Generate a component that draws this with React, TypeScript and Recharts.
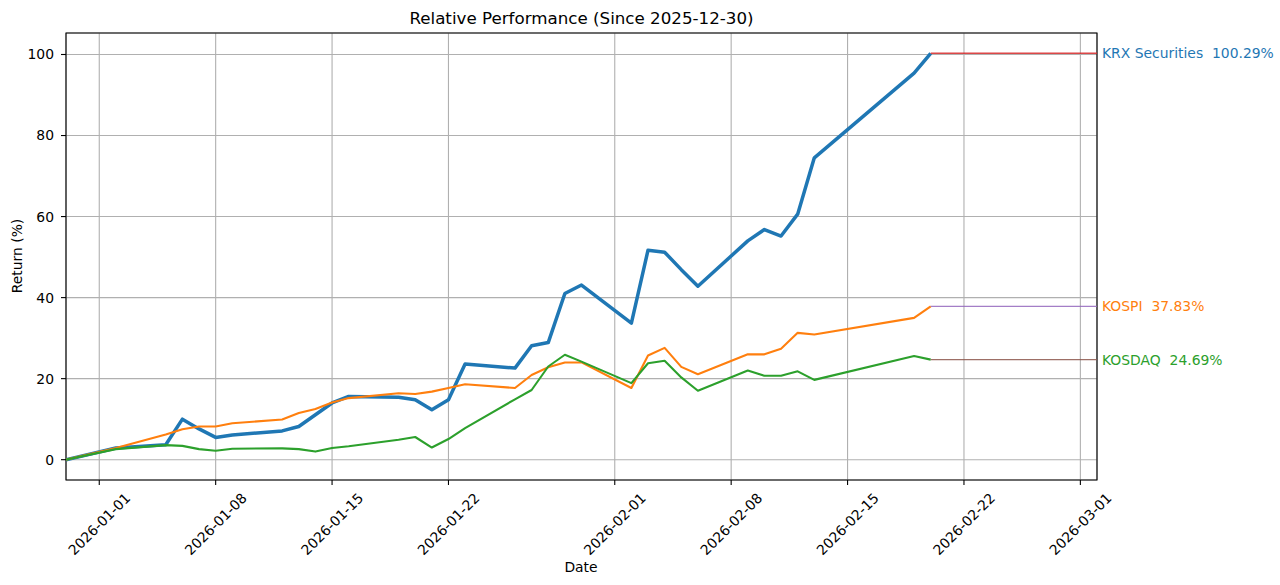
import {
  CartesianGrid,
  LabelList,
  Line,
  LineChart,
  ReferenceArea,
  XAxis,
  YAxis,
} from "recharts";

const BASE_DATE = "2025-12-30";

const dates = [
  "2025-12-30", "2026-01-02", "2026-01-05", "2026-01-06", "2026-01-07",
  "2026-01-08", "2026-01-09", "2026-01-12", "2026-01-13", "2026-01-14",
  "2026-01-15", "2026-01-16", "2026-01-19", "2026-01-20", "2026-01-21",
  "2026-01-22", "2026-01-23", "2026-01-26", "2026-01-27", "2026-01-28",
  "2026-01-29", "2026-01-30", "2026-02-02", "2026-02-03", "2026-02-04",
  "2026-02-05", "2026-02-06", "2026-02-09", "2026-02-10", "2026-02-11",
  "2026-02-12", "2026-02-13", "2026-02-19", "2026-02-20",
];

const krxSecurities = [
  0, 2.9, 3.7, 10.0, 7.6, 5.5, 6.1, 7.1, 8.2, 11.1,
  14.0, 15.6, 15.4, 14.8, 12.3, 14.8, 23.6, 22.6, 28.1, 28.9,
  41.0, 43.1, 33.7, 51.7, 51.2, 46.9, 42.8, 54.0, 56.8, 55.2,
  60.6, 74.5, 95.4, 100.29,
];

const kospi = [
  0, 2.9, 6.2, 7.5, 8.2, 8.2, 9.0, 9.9, 11.5, 12.5,
  14.1, 15.2, 16.4, 16.2, 16.8, 17.7, 18.6, 17.7, 20.9, 22.8,
  24.0, 24.0, 17.7, 25.7, 27.6, 22.9, 21.1, 26.0, 26.0, 27.4,
  31.3, 30.9, 35.0, 37.83,
];

const kosdaq = [
  0, 2.6, 3.6, 3.4, 2.6, 2.2, 2.7, 2.8, 2.6, 2.0,
  2.9, 3.3, 4.9, 5.6, 3.0, 5.1, 7.8, 14.9, 17.2, 23.0,
  25.9, 24.2, 18.9, 23.8, 24.4, 20.3, 17.0, 22.0, 20.7, 20.7,
  21.8, 19.7, 25.6, 24.69,
];

const seriesNames = ["KRX Securities", "KOSPI", "KOSDAQ"];
const xTickDates = [
  "2026-01-01", "2026-01-08", "2026-01-15", "2026-01-22", "2026-02-01",
  "2026-02-08", "2026-02-15", "2026-02-22", "2026-03-01",
];
const yTicks = [0, 20, 40, 60, 80, 100];

const DAY = 86400000;
const toDay = (d: string) => (Date.parse(d) - Date.parse(BASE_DATE)) / DAY;
const fromDay = (n: number) =>
  new Date(Date.parse(BASE_DATE) + Math.round(n) * DAY).toISOString().slice(0, 10);

const X_DOMAIN: [number, number] = [0, 62];
const Y_DOMAIN: [number, number] = [-5.0145, 105.3045];

const rows = dates.map((d, i) => ({
  x: toDay(d),
  krx: krxSecurities[i],
  kospi: kospi[i],
  kosdaq: kosdaq[i],
}));

const lastX = rows[rows.length - 1].x;
const lineColors = ["#1f77b4", "#ff7f0e", "#2ca02c"];
const extColors = ["#d62728", "#9467bd", "#8c564b"];
const finals = [krxSecurities, kospi, kosdaq].map((s) => s[s.length - 1]);

const FONT = "'DejaVu Sans', sans-serif";

function DateTick({ x, payload }: any) {
  return (
    <text
      transform={`translate(${x},524) rotate(-45)`}
      textAnchor="middle"
      dominantBaseline="central"
      fontSize={13.9}
      fontFamily={FONT}
      fill="#000"
    >
      {fromDay(payload.value)}
    </text>
  );
}

function endLabel(i: number) {
  return (props: any) => {
    if (props.index !== 1) return <g />;
    return (
      <text
        x={props.x + 5}
        y={props.y}
        dominantBaseline="central"
        fontSize={13.9}
        fontFamily={FONT}
        fill={lineColors[i]}
        style={{ whiteSpace: "pre" }}
      >
        {`${seriesNames[i]}  ${finals[i].toFixed(2)}%`}
      </text>
    );
  };
}

export default function App() {
  return (
    <div
      style={{
        position: "fixed",
        left: 0,
        top: 0,
        width: 1280,
        height: 585,
        background: "#fff",
        fontFamily: FONT,
      }}
    >
      <div
        style={{
          position: "absolute",
          left: 66,
          width: 1031,
          top: 8,
          textAlign: "center",
          fontSize: 16.7,
          lineHeight: "20px",
          color: "#000",
        }}
      >
        Relative Performance (Since 2025-12-30)
      </div>
      <div
        style={{
          position: "absolute",
          left: 17,
          top: 256,
          transform: "translate(-50%, -50%) rotate(-90deg)",
          fontSize: 13.9,
          whiteSpace: "nowrap",
          color: "#000",
        }}
      >
        Return (%)
      </div>
      <div
        style={{
          position: "absolute",
          left: 581,
          top: 567,
          transform: "translate(-50%, -50%)",
          fontSize: 13.9,
          color: "#000",
        }}
      >
        Date
      </div>

      <LineChart
        width={1280}
        height={585}
        data={rows}
        margin={{ top: 33, right: 183, bottom: 0, left: 0 }}
      >
        <CartesianGrid stroke="#b0b0b0" strokeWidth={1.1} />
        <XAxis
          dataKey="x"
          type="number"
          domain={X_DOMAIN}
          allowDataOverflow
          ticks={xTickDates.map(toDay)}
          interval={0}
          height={105}
          axisLine={false}
          tickSize={5}
          tickLine={{ stroke: "#000", strokeWidth: 1.1 }}
          tick={<DateTick />}
        />
        <YAxis
          type="number"
          domain={Y_DOMAIN}
          allowDataOverflow
          ticks={yTicks}
          width={66}
          axisLine={false}
          tickSize={5}
          tickMargin={7}
          tickLine={{ stroke: "#000", strokeWidth: 1.1 }}
          tick={{ fontSize: 13.9, fontFamily: FONT, fill: "#000" }}
        />
        <Line
          dataKey="krx"
          stroke={lineColors[0]}
          strokeWidth={3.5}
          strokeLinejoin="round"
          dot={false}
          activeDot={false}
          isAnimationActive={false}
        />
        <Line
          dataKey="kospi"
          stroke={lineColors[1]}
          strokeWidth={2.1}
          strokeLinejoin="round"
          dot={false}
          activeDot={false}
          isAnimationActive={false}
        />
        <Line
          dataKey="kosdaq"
          stroke={lineColors[2]}
          strokeWidth={2.1}
          strokeLinejoin="round"
          dot={false}
          activeDot={false}
          isAnimationActive={false}
        />
        {finals.map((v, i) => (
          <Line
            key={seriesNames[i]}
            data={[
              { x: lastX, y: v },
              { x: X_DOMAIN[1], y: v },
            ]}
            dataKey="y"
            stroke={extColors[i]}
            strokeWidth={1.4}
            strokeOpacity={0.85}
            dot={false}
            activeDot={false}
            isAnimationActive={false}
          >
            <LabelList dataKey="y" content={endLabel(i)} />
          </Line>
        ))}
        <ReferenceArea
          x1={X_DOMAIN[0]}
          x2={X_DOMAIN[1]}
          y1={Y_DOMAIN[0]}
          y2={Y_DOMAIN[1]}
          fill="none"
          stroke="#000"
          strokeWidth={1.1}
          ifOverflow="visible"
        />
      </LineChart>
    </div>
  );
}
